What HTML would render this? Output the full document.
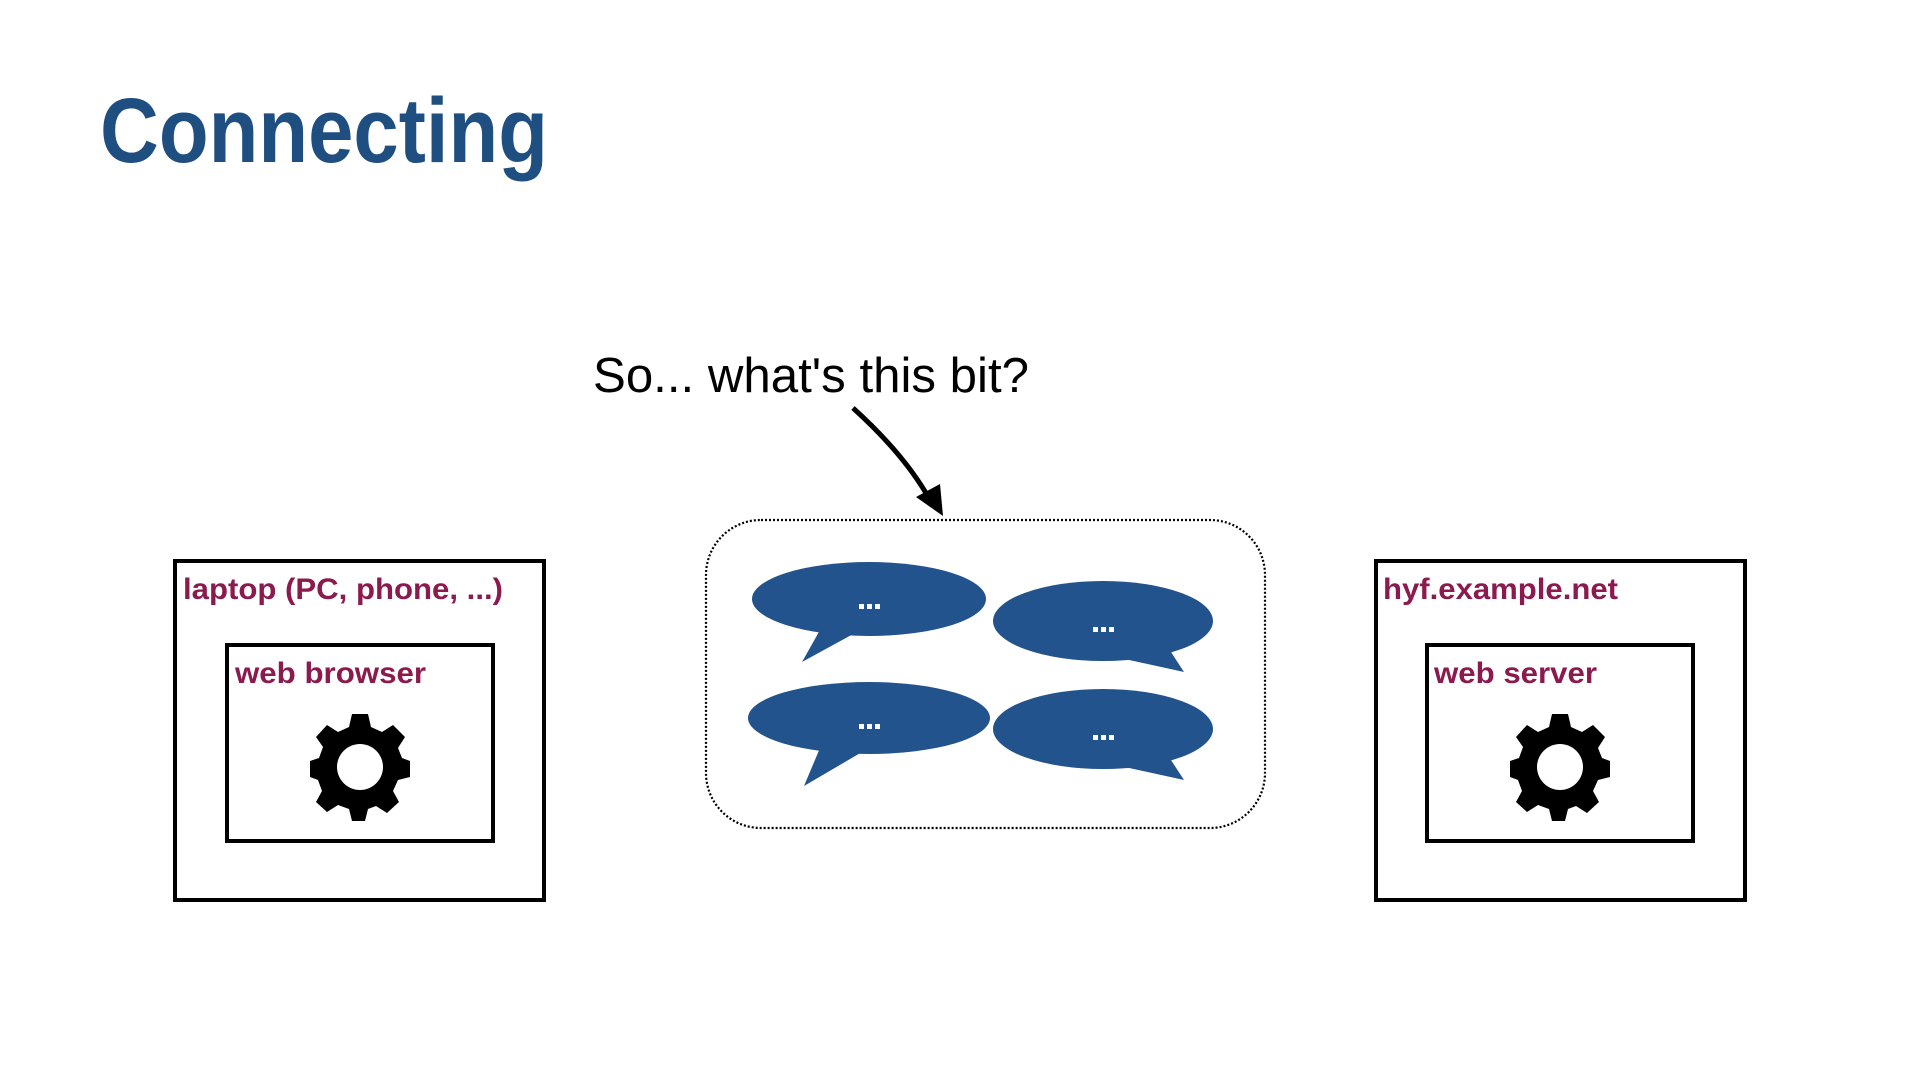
<!DOCTYPE html>
<html><head><meta charset="utf-8"><style>html,body{margin:0;padding:0;background:#fff}svg{display:block}</style></head>
<body>
<svg width="1920" height="1080" viewBox="0 0 1920 1080" xmlns="http://www.w3.org/2000/svg">
<text x="100" y="162" font-family="Liberation Sans, sans-serif" font-weight="bold" font-size="92" fill="#1f4e80" textLength="448" lengthAdjust="spacingAndGlyphs">Connecting</text>
<text x="593" y="392" font-family="Liberation Sans, sans-serif" font-size="49" fill="#000" textLength="436" lengthAdjust="spacingAndGlyphs">So... what's this bit?</text>
<path d="M853 408 Q905 455 930 500" fill="none" stroke="#000" stroke-width="5"/>
<polygon points="943,516 916,497 940,484" fill="#000"/>
<rect x="706" y="520" width="559" height="308" rx="55" fill="none" stroke="#000" stroke-width="2.2" stroke-dasharray="2,2"/>
<g fill="#23538c">
<ellipse cx="869" cy="599" rx="117" ry="37"/><polygon points="820,630 802,662 855,633"/>
<ellipse cx="1103" cy="621" rx="110" ry="40"/><polygon points="1120,658 1184,672 1169,649"/>
<ellipse cx="869" cy="718" rx="121" ry="36"/><polygon points="820,748 804,786 862,752"/>
<ellipse cx="1103" cy="729" rx="110" ry="40"/><polygon points="1120,766 1184,780 1169,757"/>
</g>
<g fill="#fff">
<rect x="859" y="604" width="5" height="5"/><rect x="867" y="604" width="5" height="5"/><rect x="875" y="604" width="5" height="5"/>
<rect x="1093" y="627" width="5" height="5"/><rect x="1101" y="627" width="5" height="5"/><rect x="1109" y="627" width="5" height="5"/>
<rect x="859" y="724" width="5" height="5"/><rect x="867" y="724" width="5" height="5"/><rect x="875" y="724" width="5" height="5"/>
<rect x="1093" y="735" width="5" height="5"/><rect x="1101" y="735" width="5" height="5"/><rect x="1109" y="735" width="5" height="5"/>
</g>
<defs>
<g id="gear">
<path fill="#000" fill-rule="evenodd" d="M-8,-50 L8,-50 L11,-37 L22,-32 L33,-39 L45,-27 L38,-16 L42,-6 L50,-3 L50,13 L38,16 L33,27 L39,38 L27,49 L16,42 L8,45 L5,57 L-8,57 L-11,45 L-22,41 L-33,48 L-44,38 L-38,27 L-42,16 L-50,13 L-50,-3 L-41,-6 L-37,-17 L-44,-27 L-33,-39 L-22,-32 L-11,-37 Z M23,3 A23,23 0 1 0 -23,3 A23,23 0 1 0 23,3 Z" transform="translate(0,-3)"/>
</g>
</defs>
<g font-family="Liberation Sans, sans-serif" font-weight="bold" fill="#8b1a4e">
<rect x="175" y="561" width="369" height="339" fill="none" stroke="#000" stroke-width="4"/>
<rect x="227" y="645" width="266" height="196" fill="none" stroke="#000" stroke-width="4"/>
<text x="183" y="599" font-size="30" textLength="320" lengthAdjust="spacingAndGlyphs">laptop (PC, phone, ...)</text>
<text x="235" y="683" font-size="30" textLength="191" lengthAdjust="spacingAndGlyphs">web browser</text>
<use href="#gear" x="360" y="767"/>
<rect x="1376" y="561" width="369" height="339" fill="none" stroke="#000" stroke-width="4"/>
<rect x="1427" y="645" width="266" height="196" fill="none" stroke="#000" stroke-width="4"/>
<text x="1383" y="599" font-size="30" textLength="235" lengthAdjust="spacingAndGlyphs">hyf.example.net</text>
<text x="1434" y="683" font-size="30" textLength="163" lengthAdjust="spacingAndGlyphs">web server</text>
<use href="#gear" x="1560" y="767"/>
</g>
</svg>
</body></html>
